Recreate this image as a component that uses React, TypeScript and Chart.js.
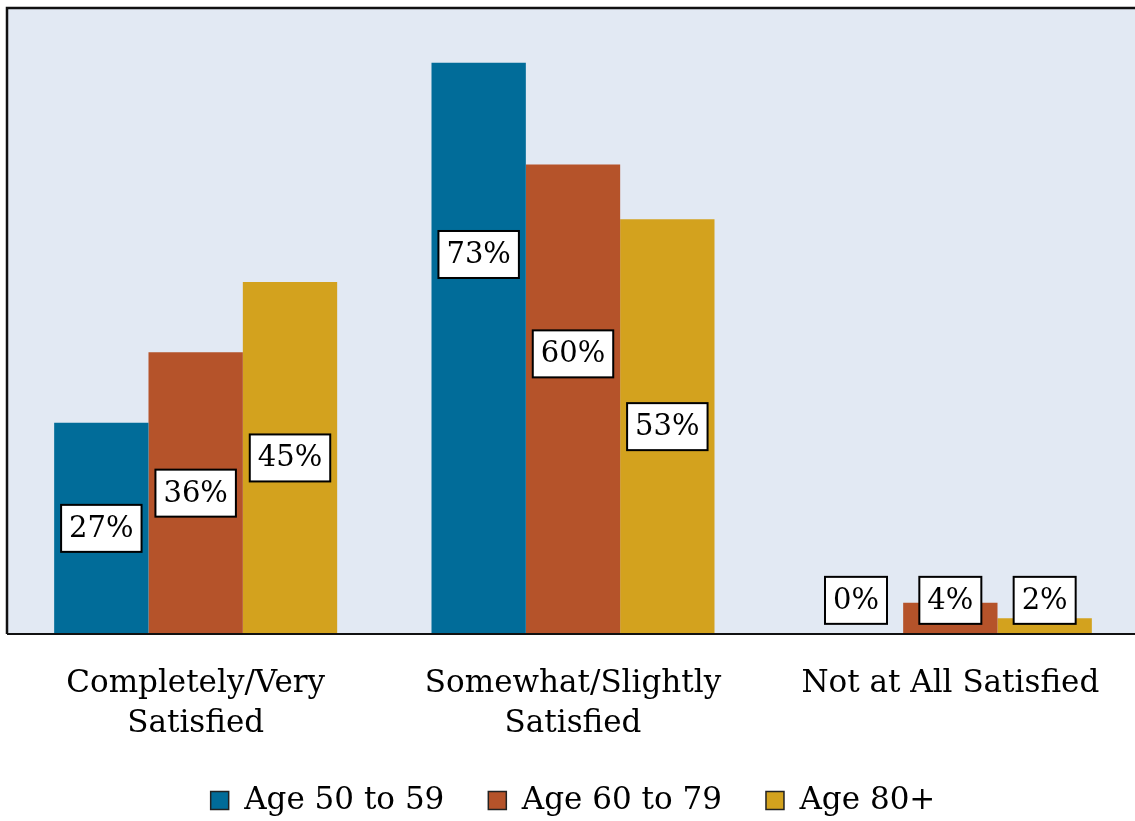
import React, { useEffect, useRef } from "react";
import { Chart, registerables } from "chart.js";

Chart.register(...registerables);

const categories: string[][] = [
  ["Completely/Very", "Satisfied"],
  ["Somewhat/Slightly", "Satisfied"],
  ["Not at All Satisfied"],
];
const seriesNames = ["Age 50 to 59", "Age 60 to 79", "Age 80+"];
const age50to59 = [27, 73, 0];
const age60to79 = [36, 60, 4];
const age80plus = [45, 53, 2];
// value (in %) at which each data label is centred
const labelAnchor50 = [13.5, 48.5, 4.3];
const labelAnchor60 = [18, 35.8, 4.3];
const labelAnchor80 = [22.5, 26.5, 4.3];
const colors = ["#016C99", "#B5532A", "#D3A21E"];
const FONT = "'DejaVu Serif', serif";

const plotBg = {
  id: "plotBg",
  beforeDraw(chart: any) {
    const { ctx, chartArea: a } = chart;
    ctx.save();
    ctx.fillStyle = "#E2E9F3";
    ctx.fillRect(a.left, a.top, a.right - a.left, a.bottom - a.top);
    ctx.restore();
  },
  afterDatasetsDraw(chart: any) {
    const { ctx, chartArea: a } = chart;
    ctx.save();
    ctx.strokeStyle = "#111";
    ctx.lineWidth = 2.5;
    ctx.beginPath();
    ctx.moveTo(a.left, a.bottom);
    ctx.lineTo(a.left, a.top);
    ctx.lineTo(a.right + 5, a.top);
    ctx.stroke();
    ctx.lineWidth = 2;
    ctx.beginPath();
    ctx.moveTo(a.left, a.bottom);
    ctx.lineTo(a.right + 5, a.bottom);
    ctx.stroke();
    ctx.restore();
  },
};

const anchors = [labelAnchor50, labelAnchor60, labelAnchor80];

const boxLabels = {
  id: "boxLabels",
  afterDatasetsDraw(chart: any) {
    const { ctx } = chart;
    const yScale = chart.scales.y;
    ctx.save();
    ctx.font = `29px ${FONT}`;
    ctx.textAlign = "center";
    ctx.textBaseline = "middle";
    chart.data.datasets.forEach((ds: any, i: number) => {
      const meta = chart.getDatasetMeta(i);
      meta.data.forEach((bar: any, j: number) => {
        const text = `${ds.data[j]}%`;
        const y = yScale.getPixelForValue(anchors[i][j]);
        const w = ctx.measureText(text).width + 16;
        const h = 47;
        ctx.fillStyle = "#fff";
        ctx.fillRect(bar.x - w / 2, y - h / 2, w, h);
        ctx.strokeStyle = "#000";
        ctx.lineWidth = 2;
        ctx.strokeRect(bar.x - w / 2, y - h / 2, w, h);
        ctx.fillStyle = "#000";
        ctx.fillText(text, bar.x, y + 1);
      });
    });
    ctx.restore();
  },
};

export default function App() {
  const ref = useRef<HTMLCanvasElement>(null);
  useEffect(() => {
    if (!ref.current) return;
    const chart = new Chart(ref.current, {
      type: "bar",
      data: {
        labels: categories,
        datasets: [age50to59, age60to79, age80plus].map((d, i) => ({
          label: seriesNames[i],
          data: d,
          backgroundColor: colors[i],
          borderWidth: 0,
          categoryPercentage: 0.75,
          barPercentage: 1.0,
        })),
      },
      options: {
        responsive: false,
        animation: false,
        layout: { padding: { left: 7, right: 6, top: 8, bottom: -5 } },
        scales: {
          x: {
            grid: { display: false },
            border: { display: false },
            afterFit: (s: any) => {
              s.height = 107;
            },
            ticks: {
              color: "#000",
              font: { family: FONT, size: 31, lineHeight: 1.3 },
              padding: 22,
              maxRotation: 0,
            },
          },
          y: { display: false, min: 0, max: 80 },
        },
        plugins: {
          tooltip: { enabled: false },
          legend: {
            position: "bottom",
            labels: {
              color: "#000",
              font: { family: FONT, size: 31 },
              boxWidth: 18,
              boxHeight: 18,
              padding: 44,
              generateLabels: (c: any) =>
                c.data.datasets.map((ds: any, i: number) => ({
                  text: ds.label,
                  fillStyle: colors[i],
                  strokeStyle: "#222",
                  lineWidth: 1.5,
                  hidden: false,
                  datasetIndex: i,
                })),
            },
          },
        },
      },
      plugins: [plotBg, boxLabels],
    });
    return () => chart.destroy();
  }, []);
  return (
    <div
      style={{
        position: "fixed",
        left: 0,
        top: 0,
        width: 1145,
        height: 821,
        overflow: "hidden",
        background: "#fff",
      }}
    >
      <canvas ref={ref} width={1145} height={821} style={{ display: "block" }} />
    </div>
  );
}
